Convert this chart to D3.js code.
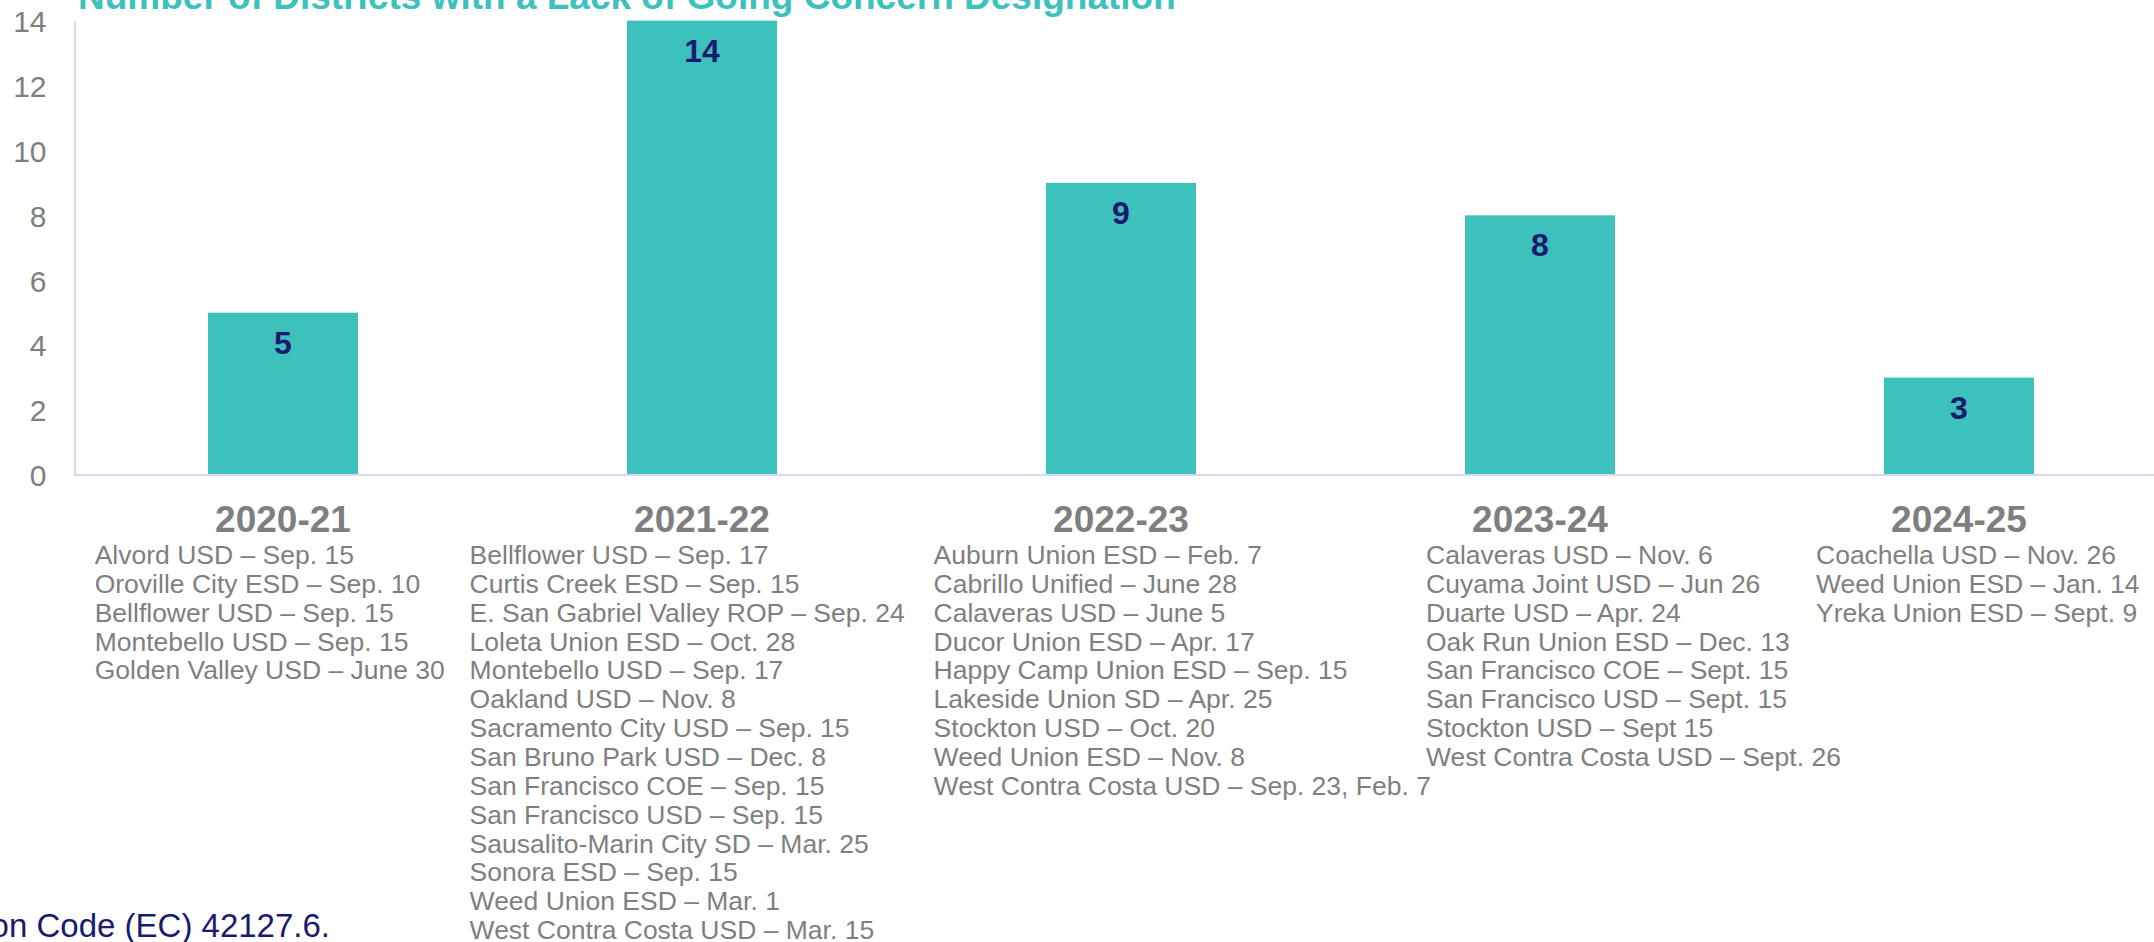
<!DOCTYPE html>
<html>
<head>
<meta charset="utf-8">
<script src="https://cdn.jsdelivr.net/npm/d3@7"></script>
<style>
  html, body { margin: 0; padding: 0; background: #ffffff; overflow: hidden; }
  svg { display: block; }
  text { font-family: "Liberation Sans", Arial, sans-serif; }
</style>
</head>
<body>
<svg id="chart" width="2154" height="942"></svg>
<script>
// ---------- DATA ----------
const titleText = "Number of Districts with a Lack of Going Concern Designation";
const years = ["2020-21", "2021-22", "2022-23", "2023-24", "2024-25"];
const counts = [5, 14, 9, 8, 3];
const yTicks = [0, 2, 4, 6, 8, 10, 12, 14];

const districts2020 = [
  "Alvord USD – Sep. 15",
  "Oroville City ESD – Sep. 10",
  "Bellflower USD – Sep. 15",
  "Montebello USD – Sep. 15",
  "Golden Valley USD – June 30"
];
const districts2021 = [
  "Bellflower USD – Sep. 17",
  "Curtis Creek ESD – Sep. 15",
  "E. San Gabriel Valley ROP – Sep. 24",
  "Loleta Union ESD – Oct. 28",
  "Montebello USD – Sep. 17",
  "Oakland USD – Nov. 8",
  "Sacramento City USD – Sep. 15",
  "San Bruno Park USD – Dec. 8",
  "San Francisco COE – Sep. 15",
  "San Francisco USD – Sep. 15",
  "Sausalito-Marin City SD – Mar. 25",
  "Sonora ESD – Sep. 15",
  "Weed Union ESD – Mar. 1",
  "West Contra Costa USD – Mar. 15"
];
const districts2022 = [
  "Auburn Union ESD – Feb. 7",
  "Cabrillo Unified – June 28",
  "Calaveras USD – June 5",
  "Ducor Union ESD – Apr. 17",
  "Happy Camp Union ESD – Sep. 15",
  "Lakeside Union SD – Apr. 25",
  "Stockton USD – Oct. 20",
  "Weed Union ESD – Nov. 8",
  "West Contra Costa USD – Sep. 23, Feb. 7"
];
const districts2023 = [
  "Calaveras USD – Nov. 6",
  "Cuyama Joint USD – Jun 26",
  "Duarte USD – Apr. 24",
  "Oak Run Union ESD – Dec. 13",
  "San Francisco COE – Sept. 15",
  "San Francisco USD – Sept. 15",
  "Stockton USD – Sept 15",
  "West Contra Costa USD – Sept. 26"
];
const districts2024 = [
  "Coachella USD – Nov. 26",
  "Weed Union ESD – Jan. 14",
  "Yreka Union ESD – Sept. 9"
];
const districtLists = [districts2020, districts2021, districts2022, districts2023, districts2024];
const footnoteText = "Education Code (EC) 42127.6.";

// ---------- LAYOUT ----------
const W = 2154, H = 942;
const plotLeft = 73.5, plotRight = 2168.5;
const plotTop = 20.6, plotBottom = 475;
const listLeft = [94.7, 469.6, 933.6, 1426, 1816];
const listFirstBaseline = 564;
const listPitch = 28.85;
const yearBaseline = 532;

const teal = "#3dc1bd";
const navy = "#1b1a6e";
const gray = "#7f7f7f";
const axisColor = "#d8d8f4";

const svg = d3.select("#chart");

const x = d3.scaleBand().domain(years).range([plotLeft, plotRight])
  .paddingInner(0.642).paddingOuter(0.321);
const y = d3.scaleLinear().domain([0, 14]).range([plotBottom, plotTop]);

// Title
svg.append("text")
  .attr("x", 78).attr("y", 9)
  .attr("font-size", 37).attr("font-weight", "bold")
  .attr("fill", teal)
  .text(titleText);

// Bars
svg.append("g").selectAll("rect")
  .data(years)
  .join("rect")
  .attr("x", d => x(d))
  .attr("y", (d, i) => y(counts[i]))
  .attr("width", x.bandwidth())
  .attr("height", (d, i) => y(0) - y(counts[i]))
  .attr("fill", teal);

// Bar value labels
svg.append("g").selectAll("text")
  .data(years)
  .join("text")
  .attr("x", d => x(d) + x.bandwidth() / 2)
  .attr("y", (d, i) => y(counts[i]) + 41)
  .attr("text-anchor", "middle")
  .attr("font-size", 32).attr("font-weight", "bold")
  .attr("fill", navy)
  .text((d, i) => counts[i]);

// Y axis
const yAxis = d3.axisLeft(y).tickValues(yTicks).tickSize(0).tickPadding(0);
const gy = svg.append("g").attr("transform", `translate(${plotLeft + 1},0)`).call(yAxis);
gy.select(".domain").attr("stroke", axisColor).attr("stroke-width", 2);
gy.selectAll(".tick text")
  .attr("x", -28)
  .attr("dy", "0.36em")
  .attr("font-size", 30)
  .attr("font-family", "Liberation Sans, Arial, sans-serif")
  .attr("fill", gray);

// X baseline
svg.append("line")
  .attr("x1", plotLeft + 1).attr("x2", W)
  .attr("y1", y(0)).attr("y2", y(0))
  .attr("stroke", axisColor).attr("stroke-width", 2);

// Year labels
svg.append("g").selectAll("text")
  .data(years)
  .join("text")
  .attr("x", d => x(d) + x.bandwidth() / 2)
  .attr("y", yearBaseline)
  .attr("text-anchor", "middle")
  .attr("font-size", 37).attr("font-weight", "bold")
  .attr("fill", gray)
  .text(d => d);

// District lists
const lists = svg.append("g").selectAll("text")
  .data(districtLists)
  .join("text")
  .attr("x", (d, i) => listLeft[i])
  .attr("y", listFirstBaseline)
  .attr("font-size", 26.5)
  .attr("fill", gray);
lists.each(function(list, i) {
  d3.select(this).selectAll("tspan")
    .data(list)
    .join("tspan")
    .attr("x", listLeft[i])
    .attr("y", (d, j) => listFirstBaseline + j * listPitch)
    .text(d => d);
});

// Footnote (partially off-canvas on the left)
svg.append("text")
  .attr("x", 330).attr("y", 937)
  .attr("text-anchor", "end")
  .attr("font-size", 33)
  .attr("fill", navy)
  .text(footnoteText);
</script>
</body>
</html>
